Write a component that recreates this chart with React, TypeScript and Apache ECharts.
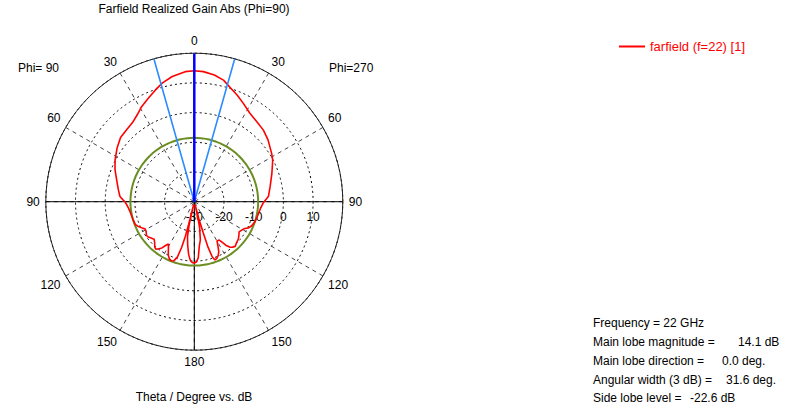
import React, { useEffect, useRef } from 'react';
import * as echarts from 'echarts';

const TITLE = 'Farfield Realized Gain Abs (Phi=90)';
const AXIS_TITLE = 'Theta / Degree vs. dB';
const SERIES_NAME = 'farfield (f=22) [1]';
const LEFT_PHI_LABEL = 'Phi= 90';
const RIGHT_PHI_LABEL = 'Phi=270';

const RADIUS_MIN = -30;
const RADIUS_MAX = 20;
const RADIUS_STEP = 10;
const ANGLE_STEP = 30;

const FREQUENCY_GHZ = 22;
const MAIN_LOBE_MAG = 14.1;
const MAIN_LOBE_DIR = 0.0;
const ANGULAR_WIDTH = 31.6;
const SIDE_LOBE_LEVEL = -22.6;

// phi = 90 half (left side), theta in degrees, realized gain in dB
const PHI90_THETA = [
  0, 4, 10, 15, 19, 24, 29, 33, 38, 44, 49, 55, 62, 68, 75, 81, 86, 88.5, 90, 93, 96,
  100, 106, 111, 114, 117, 119, 122, 125, 127, 130, 133, 136, 139, 141, 143, 145, 147,
  148.5, 150, 152, 154, 156.5, 159, 161, 163, 164.5, 165.5, 166, 166.7, 167.5, 169,
  171.5, 174, 176, 178, 180,
];
const PHI90_GAIN = [
  14.1, 13.9, 12.8, 11.4, 9.9, 8.1, 6.6, 5.1, 3.8, 3.2, 2.9, 1.7, 0.2, -1.2, -3.0, -4.1,
  -4.9, -6.0, -6.6, -7.3, -7.8, -8.2, -8.5, -8.7, -9.4, -10.4, -11.1, -10.9, -10.3,
  -10.4, -11.0, -11.5, -10.8, -9.7, -9.4, -10.2, -11.0, -12.5, -13.3, -12.6, -11.4,
  -10.0, -9.0, -8.6, -9.0, -10.5, -14, -18, -22, -29, -22, -18, -15, -12, -10.3, -9.5,
  -9.3,
];

// phi = 270 half (right side)
const PHI270_THETA = [
  0, 4, 9, 13.5, 17, 22, 26.5, 32, 38, 44, 50, 58, 62, 70, 79, 86, 88, 91, 95, 102, 108,
  113, 116, 118, 121, 124, 127, 130, 134, 137.5, 140, 142, 144, 145.5, 147, 150, 152,
  154, 156, 158.5, 160.5, 162, 163.2, 164, 165, 166, 167.5, 168.5, 171, 173.5, 176, 178,
  180,
];
const PHI270_GAIN = [
  14.1, 13.9, 13.2, 12.1, 10.5, 8.65, 7.0, 5.2, 4.2, 3.5, 2.4, 0.7, -0.1, -2.2, -4.0,
  -5.0, -5.8, -6.8, -7.5, -8.1, -8.5, -9.1, -9.8, -10.8, -11.4, -11.8, -11.2, -10.6,
  -10.2, -9.6, -10.0, -10.6, -11.8, -13.5, -14.6, -14.7, -13, -11.2, -10.2, -9.4, -9.2,
  -10.5, -14, -19, -24, -29, -24, -21, -17, -15, -11, -9.7, -9.3,
];

const FONT = "'Liberation Sans', Arial, sans-serif";

// polar angle: 0 = right, counter-clockwise; top = theta 0
const leftAngle = (t: number) => 90 + t;
const rightAngle = (t: number) => (450 - t) % 360;
const angleToTheta = (v: number) =>
  v >= 90 && v <= 270 ? v - 90 : v < 90 ? 90 - v : 450 - v;

export default function App() {
  const ref = useRef<HTMLDivElement>(null);

  useEffect(() => {
    if (!ref.current) return;
    const chart = echarts.init(ref.current, undefined, { renderer: 'svg' });

    const curve: number[][] = [];
    PHI90_THETA.forEach((t, i) => curve.push([PHI90_GAIN[i], leftAngle(t)]));
    for (let i = PHI270_THETA.length - 1; i >= 0; i--) {
      curve.push([PHI270_GAIN[i], rightAngle(PHI270_THETA[i])]);
    }

    const sllAbs = MAIN_LOBE_MAG + SIDE_LOBE_LEVEL;
    const circle: number[][] = [];
    for (let a = 0; a <= 360; a += 3) circle.push([sllAbs, a]);

    const half = ANGULAR_WIDTH / 2;

    const text = (t: string, x: number, y: number, align = 'left', color = '#000') => ({
      type: 'text',
      x,
      y,
      style: {
        text: t,
        fill: color,
        font: `12px ${FONT}`,
        textAlign: align,
        textVerticalAlign: 'middle',
      },
    });

    chart.setOption({
      animation: false,
      backgroundColor: '#ffffff',
      polar: { center: [194.3, 201.7], radius: 148.5 },
      angleAxis: {
        type: 'value',
        min: 0,
        max: 360,
        interval: ANGLE_STEP,
        startAngle: 0,
        clockwise: false,
        axisLine: { show: true, lineStyle: { color: '#222', width: 1 } },
        axisTick: { show: false },
        axisLabel: {
          margin: 6,
          color: '#000',
          fontSize: 12,
          fontFamily: FONT,
          formatter: (v: number) => String(angleToTheta(v)),
        },
        splitLine: { show: true, lineStyle: { color: '#444', type: [4, 4], width: 1 } },
      },
      radiusAxis: {
        type: 'value',
        min: RADIUS_MIN,
        max: RADIUS_MAX,
        interval: RADIUS_STEP,
        axisLine: { show: false },
        axisTick: { show: false },
        axisLabel: {
          margin: -9,
          verticalAlign: 'top',
          align: 'center',
          color: '#000',
          fontSize: 12,
          fontFamily: FONT,
          formatter: (v: number) => (v === RADIUS_MAX ? '' : String(v)),
        },
        splitLine: { show: true, lineStyle: { color: '#000', type: [2, 3], width: 1 } },
      },
      legend: {
        data: [SERIES_NAME],
        left: 614,
        top: 35,
        itemWidth: 26,
        itemHeight: 2,
        icon: 'rect',
        textStyle: { color: '#ff0000', fontSize: 13, fontFamily: FONT },
      },
      series: [
        {
          type: 'line',
          coordinateSystem: 'polar',
          data: [
            [RADIUS_MAX, 0],
            [RADIUS_MAX, 180],
          ],
          symbol: 'none',
          silent: true,
          lineStyle: { color: '#000', width: 1 },
          z: 1,
        },
        {
          type: 'line',
          coordinateSystem: 'polar',
          data: [
            [RADIUS_MIN, 270],
            [RADIUS_MAX, 270],
          ],
          symbol: 'none',
          silent: true,
          lineStyle: { color: '#000', width: 1 },
          z: 1,
        },
        {
          type: 'line',
          coordinateSystem: 'polar',
          data: circle,
          symbol: 'none',
          smooth: true,
          silent: true,
          lineStyle: { color: '#6b8e23', width: 2 },
          z: 2,
        },
        {
          name: SERIES_NAME,
          type: 'line',
          coordinateSystem: 'polar',
          data: curve,
          symbol: 'none',
          showSymbol: false,
          lineStyle: { color: '#ff0000', width: 1.6 },
          itemStyle: { color: '#ff0000' },
          z: 3,
        },
        {
          type: 'line',
          coordinateSystem: 'polar',
          data: [
            [RADIUS_MAX, leftAngle(MAIN_LOBE_DIR + half)],
            [RADIUS_MIN, 90],
            [RADIUS_MAX, rightAngle(MAIN_LOBE_DIR + half)],
          ],
          symbol: 'none',
          silent: true,
          lineStyle: { color: '#2b8cff', width: 1.6 },
          z: 4,
        },
        {
          type: 'line',
          coordinateSystem: 'polar',
          data: [
            [RADIUS_MIN, 90],
            [RADIUS_MAX, leftAngle(MAIN_LOBE_DIR)],
          ],
          symbol: 'none',
          silent: true,
          lineStyle: { color: '#0000ff', width: 2.5 },
          z: 5,
        },
      ],
      graphic: [
        text(TITLE, 194, 9, 'center'),
        text(AXIS_TITLE, 194, 397, 'center'),
        text(LEFT_PHI_LABEL, 18, 68),
        text(RIGHT_PHI_LABEL, 329, 68),
        text(`Frequency = ${FREQUENCY_GHZ} GHz`, 593, 323),
        text('Main lobe magnitude =', 593, 342),
        text(`${MAIN_LOBE_MAG.toFixed(1)} dB`, 738, 342),
        text('Main lobe direction =', 593, 361),
        text(`${MAIN_LOBE_DIR.toFixed(1)} deg.`, 722, 361),
        text('Angular width (3 dB) =', 593, 380),
        text(`${ANGULAR_WIDTH.toFixed(1)} deg.`, 726, 380),
        text('Side lobe level =', 593, 398),
        text(`${SIDE_LOBE_LEVEL.toFixed(1)} dB`, 690, 398),
      ],
    });

    return () => chart.dispose();
  }, []);

  return (
    <div
      ref={ref}
      style={{ position: 'fixed', left: 0, top: 0, width: 786, height: 404, background: '#fff' }}
    />
  );
}
